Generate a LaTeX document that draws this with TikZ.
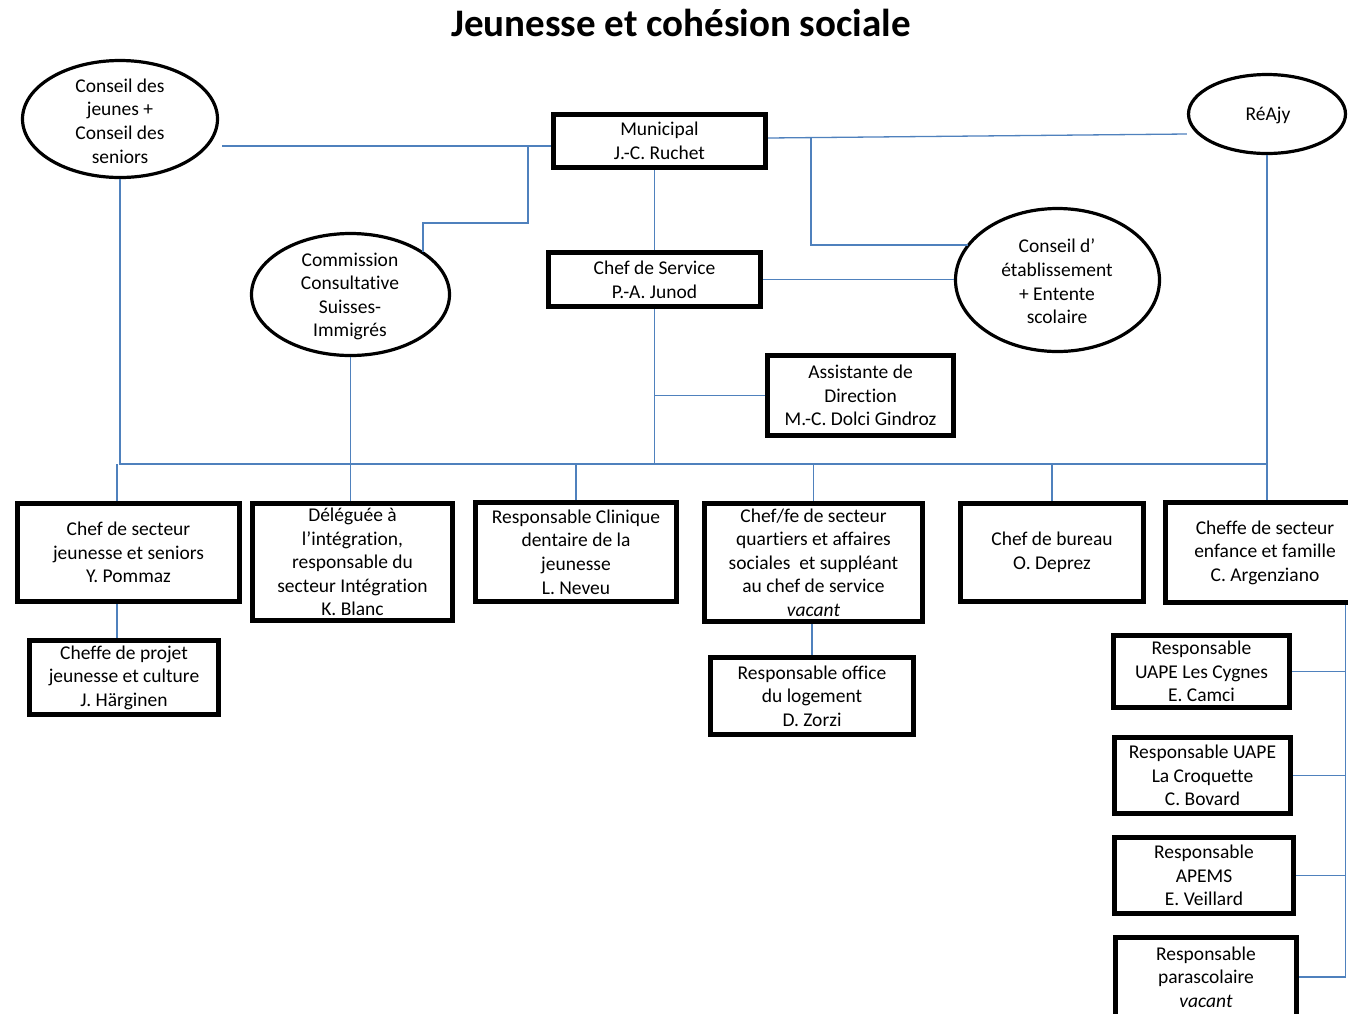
\documentclass[tikz,border=0pt]{standalone}
\usepackage{fontspec}
\setmainfont{Carlito}[Ligatures=NoCommon]
\usetikzlibrary{shapes.geometric}
\definecolor{connblue}{RGB}{79,129,189}
\begin{document}
\begin{tikzpicture}[x=1pt,y=-1pt,
  orgbox/.style={draw=black,line width=5pt,inner sep=0pt,align=center,font=\fontsize{19.5}{23.6}\selectfont},
  orgell/.style={draw=black,ellipse,line width=3.2pt,inner sep=0pt},
  elltext/.style={inner sep=0pt,align=center,font=\fontsize{19.5}{23.6}\selectfont},
  conn/.style={draw=connblue,line width=1.3pt},
  titlestyle/.style={inner sep=0pt,font=\bfseries\fontsize{39}{46}\selectfont}]
\useasboundingbox (0,0) rectangle (1348,1013);
\fill[white] (0,0) rectangle (1348,1013);
\clip (0,0) rectangle (1348,1013);

% title
\node[titlestyle] (title) at (681,23) {Jeunesse et cohésion sociale};

% ellipses
\node[orgell,minimum width=195pt,minimum height=117pt] (cj) at (120,119) {};
\node[elltext] (cjt) at (120,121) {Conseil des\\jeunes +\\Conseil des\\seniors};
\node[orgell,minimum width=198pt,minimum height=122pt] (com) at (350.5,294.5) {};
\node[elltext] (comt) at (350,296.5) {Commission\\Consultative\\Suisses-\\Immigrés};
\node[orgell,minimum width=204pt,minimum height=143pt] (ce) at (1057.5,280) {};
\node[elltext] (cet) at (1057,281.5) {Conseil d’\\établissement\\+ Entente\\scolaire};
\node[orgell,minimum width=157pt,minimum height=79pt] (re) at (1267,114) {};
\node[elltext] (ret) at (1268,115) {RéAjy};

% boxes
\node[orgbox,minimum width=212pt,minimum height=53pt] (mun) at (659.5,141) {Municipal\\J.-C. Ruchet};
\node[orgbox,minimum width=212pt,minimum height=54pt] (cs) at (654.5,279.5) {Chef de Service\\P.-A. Junod};
\node[orgbox,minimum width=186pt,minimum height=80pt] (as) at (860.5,395.5) {Assistante de\\Direction\\M.-C. Dolci Gindroz};
\node[orgbox,minimum width=222pt,minimum height=98pt] (j) at (128.5,552.5) {Chef de secteur\\jeunesse et seniors\\Y. Pommaz};
\node[orgbox,minimum width=200pt,minimum height=117pt] (del) at (352.5,562) {Déléguée à\\l’intégration,\\responsable du\\secteur Intégration\\K. Blanc};
\node[orgbox,minimum width=201pt,minimum height=99pt] (cl) at (576,552) {Responsable Clinique\\dentaire de la\\jeunesse\\L. Neveu};
\node[orgbox,minimum width=218pt,minimum height=118pt] (cf) at (813.5,562.5) {Chef/fe de secteur\\quartiers et affaires\\sociales\ \ et suppléant\\au chef de service\\\textit{vacant}};
\node[orgbox,minimum width=183pt,minimum height=98pt] (bu) at (1052,552.5) {Chef de bureau\\O. Deprez};
\node[orgbox,minimum width=199pt,minimum height=100pt] (enf) at (1265,552.5) {Cheffe de secteur\\enfance et famille\\C. Argenziano};
\node[orgbox,minimum width=189pt,minimum height=74pt] (pj) at (124,677.5) {Cheffe de projet\\jeunesse et culture\\J. Härginen};
\node[orgbox,minimum width=203pt,minimum height=77pt] (of) at (812,696) {Responsable office\\du logement\\D. Zorzi};
\node[orgbox,minimum width=176pt,minimum height=72pt] (cy) at (1201.5,671.5) {Responsable\\UAPE Les Cygnes\\E. Camci};
\node[orgbox,minimum width=176pt,minimum height=76pt] (cr) at (1202.5,775.5) {Responsable UAPE\\La Croquette\\C. Bovard};
\node[orgbox,minimum width=179pt,minimum height=76pt] (ap) at (1204,875.5) {Responsable\\APEMS\\E. Veillard};
\node[orgbox,minimum width=181pt,minimum height=79pt] (pa) at (1206,977) {Responsable\\parascolaire\\\textit{vacant}};

% helper coordinates
\coordinate (yA) at (0,146);
\coordinate (yB) at (0,223);
\coordinate (xB) at (528,0);
\coordinate (xC) at (423,0);
\coordinate (yD1) at (0,138);
\coordinate (yD2) at (0,134);
\coordinate (xE) at (811,0);
\coordinate (yF) at (0,245);
\coordinate (ybus) at (0,464);
\coordinate (xJ) at (117,0);
\coordinate (xR) at (1345.5,0);

% connectors
\draw[conn] ([xshift=3pt]cj.east |- yA) -- (mun.west |- yA);
\draw[conn] (xB |- yA) -- (xB |- yB) -- (xC |- yB) -- (xC |- com.30);
\draw[conn] (mun.east |- yD1) -- (re.west |- yD2);
\draw[conn] (xE |- yD1) -- (xE |- yF) -- (ce.158 |- yF);
\draw[conn] (cs.north) -- (cs.north |- mun.south);
\draw[conn] (cs.east) -- (cs.east -| ce.west);
\draw[conn] (cs.south) -- (cs.south |- ybus);
\draw[conn] (as.west) -- (as.west -| cs.south);
\draw[conn] (cj.south) -- (cj.south |- ybus) -- (re.south |- ybus);
\draw[conn] (re.south) -- (re.south |- enf.north);
\draw[conn] (xJ |- ybus) -- (xJ |- j.north);
\draw[conn] (xJ |- j.south) -- (xJ |- pj.north);
\draw[conn] (com.south) -- (com.south |- del.north);
\draw[conn] (cl.north |- ybus) -- (cl.north);
\draw[conn] (cf.north |- ybus) -- (cf.north);
\draw[conn] (of.north) -- (of.north |- cf.south);
\draw[conn] (bu.north |- ybus) -- (bu.north);
\draw[conn] (xR |- enf.south) -- (xR |- pa.east);
\draw[conn] (cy.east) -- (cy.east -| xR);
\draw[conn] (cr.east) -- (cr.east -| xR);
\draw[conn] (ap.east) -- (ap.east -| xR);
\draw[conn] (pa.east) -- (pa.east -| xR);
\end{tikzpicture}
\end{document}
